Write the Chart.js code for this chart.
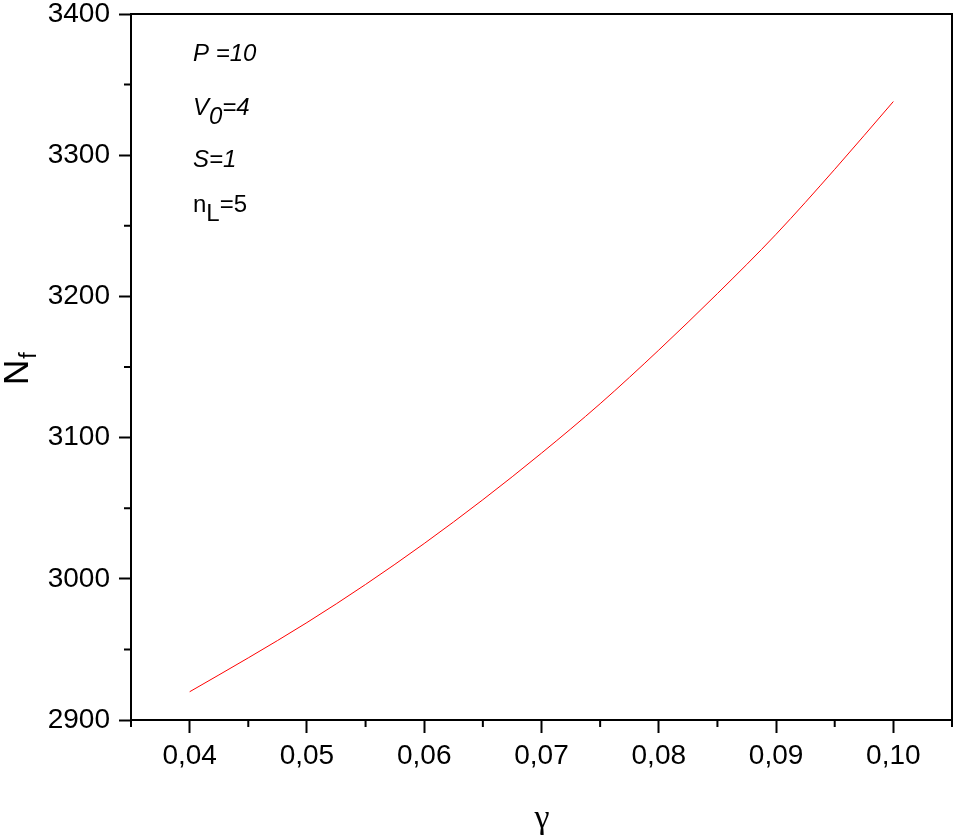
<!DOCTYPE html>
<html>
<head>
<meta charset="utf-8">
<script src="https://cdn.jsdelivr.net/npm/chart.js@4.4.1/dist/chart.umd.min.js"></script>
<style>
html,body{margin:0;padding:0;background:#fff;}
#wrap{width:957px;height:839px;position:relative;}
</style>
</head>
<body>
<div id="wrap"><canvas id="c" width="957" height="839"></canvas></div>
<script>
// Data
const gammaValues = [0.040, 0.045, 0.050, 0.055, 0.060, 0.065, 0.070, 0.075, 0.080, 0.085, 0.090, 0.095, 0.100];
const nfValues    = [2920, 2944, 2969, 2996, 3025, 3056, 3089, 3124, 3162, 3202, 3244, 3290, 3338];
const xTickValues = [0.04, 0.05, 0.06, 0.07, 0.08, 0.09, 0.10];
const yTickValues = [2900, 3000, 3100, 3200, 3300, 3400];
const annotations = [
  {main: 'P =10', sub: '', after: '', italic: true},
  {main: 'V', sub: '0', after: '=4', italic: true},
  {main: 'S=1', sub: '', after: '', italic: true},
  {main: 'n', sub: 'L', after: '=5', italic: false}
];

const FONT = '"Liberation Sans", Arial, sans-serif';

const framePlugin = {
  id: 'frame',
  afterDraw(chart) {
    const ctx = chart.ctx;
    const a = chart.chartArea;
    const xs = chart.scales.x, ys = chart.scales.y;
    ctx.save();
    ctx.strokeStyle = '#000';
    ctx.lineWidth = 2;
    ctx.beginPath();
    ctx.moveTo(a.left, a.top); ctx.lineTo(a.right, a.top); ctx.lineTo(a.right, a.bottom);
    ctx.stroke();
    ctx.beginPath();
    for (let i = 0; i < xTickValues.length; i++) {
      const px = xs.getPixelForValue(xTickValues[i] - 0.005);
      ctx.moveTo(px, a.bottom); ctx.lineTo(px, a.bottom + 7);
    }
    const lastx = xs.getPixelForValue(xTickValues[xTickValues.length-1] + 0.005);
    ctx.moveTo(lastx, a.bottom); ctx.lineTo(lastx, a.bottom + 7);
    for (let i = 0; i < yTickValues.length - 1; i++) {
      const py = ys.getPixelForValue(yTickValues[i] + 50);
      ctx.moveTo(a.left, py); ctx.lineTo(a.left - 7, py);
    }
    ctx.stroke();

    ctx.fillStyle = '#000';
    ctx.textBaseline = 'alphabetic';
    ctx.textAlign = 'left';
    const baselines = [61, 115, 167, 212];
    annotations.forEach((t, i) => {
      let x = 193;
      const y = baselines[i];
      const st = t.italic ? 'italic ' : '';
      ctx.font = st + '24px ' + FONT;
      ctx.fillText(t.main, x, y);
      x += ctx.measureText(t.main).width;
      if (t.sub) {
        ctx.fillText(t.sub, x, y + 9);
        x += ctx.measureText(t.sub).width;
      }
      if (t.after) {
        ctx.fillText(t.after, x, y);
      }
    });

    ctx.save();
    ctx.translate(28, 385);
    ctx.rotate(-Math.PI / 2);
    ctx.font = '35px ' + FONT;
    ctx.fillText('N', 0, 0);
    const nw = ctx.measureText('N').width;
    ctx.font = '23px ' + FONT;
    ctx.fillText('f', nw + 1, 8);
    ctx.restore();

    ctx.font = '34px "Liberation Serif", "DejaVu Serif", serif';
    ctx.textAlign = 'center';
    ctx.fillText('γ', 542, 828);
    ctx.restore();
  }
};

new Chart(document.getElementById('c'), {
  type: 'line',
  data: {
    datasets: [{
      data: gammaValues.map((g, i) => ({x: g, y: nfValues[i]})),
      borderColor: '#ff0000',
      borderWidth: 1,
      pointRadius: 0,
      fill: false,
      cubicInterpolationMode: 'monotone'
    }]
  },
  options: {
    responsive: false,
    animation: false,
    layout: {padding: {left: 0, top: 14, right: 5, bottom: 0}},
    plugins: {legend: {display: false}, tooltip: {enabled: false}},
    scales: {
      x: {
        type: 'linear',
        min: 0.035,
        max: 0.105,
        afterBuildTicks: s => { s.ticks = xTickValues.map(v => ({value: v})); },
        afterFit: s => { s.height = 119; s.paddingLeft = 0; s.paddingRight = 0; },
        grid: {drawOnChartArea: false, drawTicks: true, tickLength: 13, tickWidth: 2, color: '#000'},
        border: {display: true, width: 2, color: '#000'},
        ticks: {
          color: '#000',
          font: {family: FONT, size: 28},
          padding: 6,
          maxRotation: 0,
          callback: v => Number(v).toFixed(2).replace('.', ',')
        }
      },
      y: {
        type: 'linear',
        min: 2900,
        max: 3400,
        afterBuildTicks: s => { s.ticks = yTickValues.map(v => ({value: v})); },
        afterFit: s => { s.width = 131; s.paddingTop = 0; s.paddingBottom = 0; },
        grid: {drawOnChartArea: false, drawTicks: true, tickLength: 12, tickWidth: 2, color: '#000'},
        border: {display: true, width: 2, color: '#000'},
        ticks: {
          color: '#000',
          font: {family: FONT, size: 28},
          padding: 9,
          callback: v => String(v)
        }
      }
    }
  },
  plugins: [framePlugin]
});
</script>
</body>
</html>
